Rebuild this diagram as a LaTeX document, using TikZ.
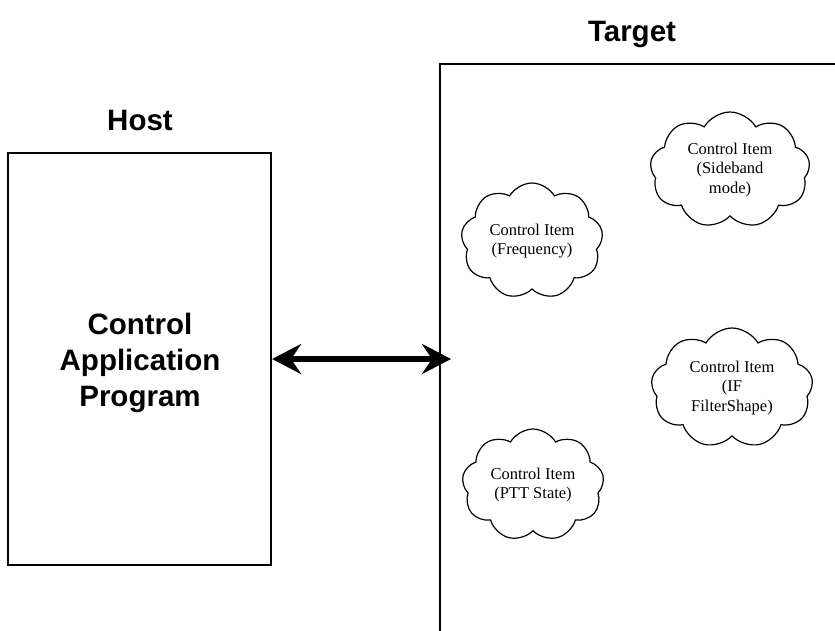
\documentclass[tikz,border=0pt]{standalone}
\usepackage{fontspec}
\setmainfont{Liberation Serif}
\newfontfamily\labfont{Liberation Sans}
\usetikzlibrary{shapes.symbols,arrows.meta}
\begin{document}
\begin{tikzpicture}[x=1pt,y=-1pt,
  boxline/.style={draw=black,line width=2.2pt},
  biglabel/.style={font=\labfont\bfseries\fontsize{29.5}{36}\selectfont,align=center,inner sep=0pt},
  item/.style={cloud,draw=black,line width=1.2pt,cloud puffs=9,cloud puff arc=120,
    cloud ignores aspect,inner sep=0pt,align=center,
    font=\fontsize{16.5}{19.5}\selectfont}]
\useasboundingbox (0,0) rectangle (835,630);
% Host
\node[boxline,minimum width=263pt,minimum height=412pt,inner sep=0pt] (host) at (139.5,359) {};
\node[biglabel] (appl) at (140,363) {Control\\Application\\Program};
\node[biglabel,anchor=base] (hostlab) at (140,130) {Host};
% Target
\coordinate (tbl) at (440,640);
\coordinate (ttl) at (440,64);
\coordinate (ttr) at (845,64);
\draw[line width=2.2pt] (tbl) -- (ttl) -- (ttr);
\node[biglabel,anchor=base] (targetlab) at (632,41) {Target};
% arrow
\coordinate (aright) at (451,359);
\draw[line width=5.5pt,{Stealth[length=29pt,width=30pt,inset=10pt]}-{Stealth[length=29pt,width=30pt,inset=10pt]}]
  (host.east |- aright) -- (aright);
% clouds
\node[item,minimum width=142pt,minimum height=116pt] (freq) at (532,241) {Control Item\\(Frequency)};
\node[item,minimum width=160pt,minimum height=116pt] (side) at (730,170) {Control Item\\(Sideband\\mode)};
\node[item,minimum width=162pt,minimum height=120pt] (ifs) at (732,388) {Control Item\\(IF\\FilterShape)};
\node[item,minimum width=142pt,minimum height=112pt] (ptt) at (533,485) {Control Item\\(PTT State)};
\end{tikzpicture}
\end{document}
